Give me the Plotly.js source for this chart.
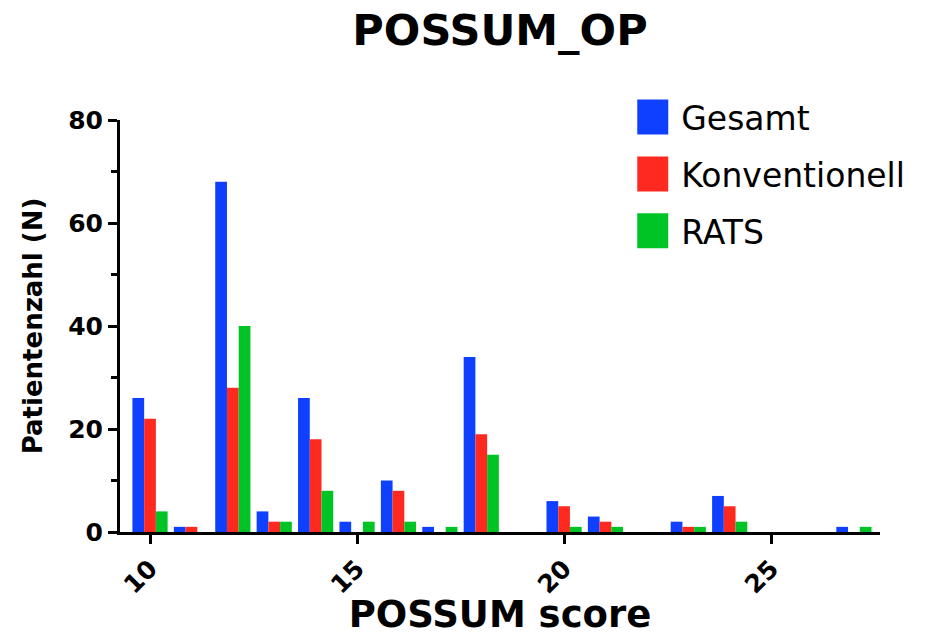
<!DOCTYPE html>
<html><head><meta charset="utf-8">
<script src="https://cdn.plot.ly/plotly-3.0.1.min.js"></script>
<style>html,body{margin:0;padding:0;background:#fff;}#chart{width:925px;height:636px;}</style>
</head><body><div id="chart"></div>
<script>
const scores        = [10,11,12,13,14,15,16,17,18,19,20,21,22,23,24,25,26,27];
const gesamt        = [26, 1,68, 4,26, 2,10, 1,34, 0, 6, 3, 0, 2, 7, 0, 0, 1];
const konventionell = [22, 1,28, 2,18, 0, 8, 0,19, 0, 5, 2, 0, 1, 5, 0, 0, 0];
const rats          = [ 4, 0,40, 2, 8, 2, 2, 1,15, 0, 1, 1, 0, 1, 2, 0, 0, 1];
const seriesNames   = ['Gesamt','Konventionell','RATS'];
const seriesColors  = ['#1040ff','#ff2a1f','#00c426'];
const yTickVals     = [0,20,40,60,80];
const xTickVals     = [10,15,20,25];

const seriesValues = [gesamt, konventionell, rats];
const traces = seriesValues.map((vals, i) => ({
  type: 'bar', x: scores, y: vals, name: seriesNames[i],
  legendgroup: 'g' + i,
  marker: {color: seriesColors[i], line: {width: 0}},
  hoverinfo: 'x+y+name'
}));

const boldFont = {family: 'DejaVu Sans', weight: 'bold', color: '#000'};
const layout = {
  width: 925, height: 636,
  margin: {l: 120, r: 45, t: 120, b: 104},
  paper_bgcolor: '#fff', plot_bgcolor: '#fff',
  barmode: 'group', bargap: 0.15, bargroupgap: 0,
  title: {text: 'POSSUM_OP', font: Object.assign({}, boldFont, {size: 43}),
          xref: 'paper', x: 0.5, xanchor: 'center', yref: 'container', y: 0.953, yanchor: 'middle'},
  xaxis: {
    range: [9.275, 27.63], tickmode: 'array', tickvals: xTickVals, ticktext: xTickVals.map(String),
    tickangle: -45, ticks: 'outside', ticklen: 9, tickwidth: 3, tickcolor: '#000',
    showline: true, linewidth: 3, linecolor: '#000', showgrid: false, zeroline: false,
    tickfont: Object.assign({}, boldFont, {size: 25}),
    title: {text: 'POSSUM score', font: Object.assign({}, boldFont, {size: 37}), standoff: 16}
  },
  yaxis: {
    range: [0, 80], tickmode: 'array', tickvals: yTickVals, ticktext: yTickVals.map(String),
    ticks: 'outside', ticklen: 9, tickwidth: 3, tickcolor: '#000',
    minor: {dtick: 10, ticks: 'outside', ticklen: 6, tickwidth: 3, tickcolor: '#000', showgrid: false},
    showline: true, linewidth: 3, linecolor: '#000', showgrid: false, zeroline: false,
    tickfont: Object.assign({}, boldFont, {size: 25}),
    title: {text: 'Patientenzahl (N)', font: Object.assign({}, boldFont, {size: 26}), standoff: 19}
  },
  showlegend: true,
  legend: {
    x: 0.6635, y: 1.075, xanchor: 'left', yanchor: 'top',
    font: {family: 'DejaVu Sans', size: 33, color: '#000'},
    itemwidth: 47, tracegroupgap: 11, traceorder: 'grouped',
    bgcolor: 'rgba(0,0,0,0)', borderwidth: 0
  }
};

Plotly.newPlot('chart', traces, layout, {displayModeBar: false, staticPlot: true}).then(gd => {
  gd.querySelectorAll('.legend .legendpoints path').forEach(p => {
    p.setAttribute('d', 'M-15.5,-17.5H15.5V17.5H-15.5Z');
  });
});
</script>
</body></html>
